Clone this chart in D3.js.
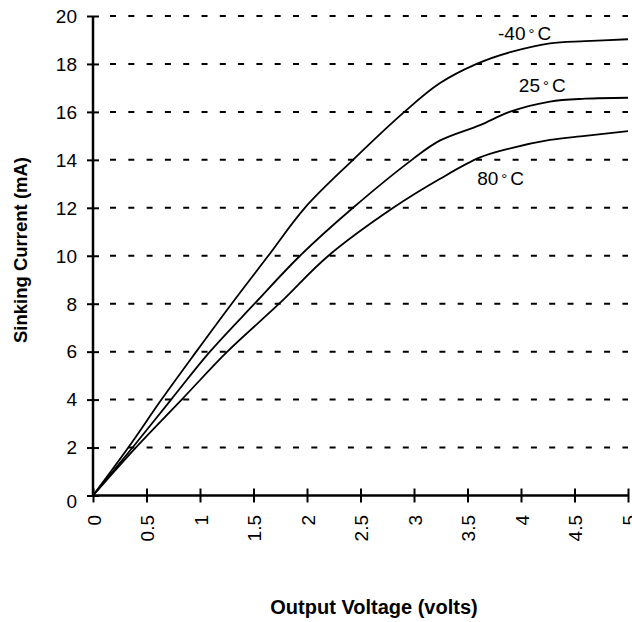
<html>
<head>
<script src='https://d3js.org/d3.v7.min.js'></script>
<style>
body {
  margin: 0;
  background-color: #ffffff;
}
text {
  font-family: 'Liberation Sans', Arial, Helvetica, sans-serif;
}
.grid line {
  stroke: #000;
  stroke-width: 2px;
  stroke-dasharray: 6, 12.3;
}
</style>
</head>
<body>
<script>

// output voltage (volts) -> sinking current (mA)
var voltsMinus40 = [0, 0.33, 0.64, 0.965, 1.296, 1.638, 1.98, 2.43, 2.91, 3.24, 3.586, 3.9, 4.27, 4.6, 5];
var currentMinus40 = [0, 2, 4, 6, 8, 10, 12, 14, 16, 17.19, 18, 18.49, 18.86, 18.95, 19.03];

var volts25 = [0, 0.37, 0.73, 1.093, 1.51, 1.935, 2.43, 2.98, 3.24, 3.617, 3.9, 4.27, 4.6, 5];
var current25 = [0, 2, 4, 6, 8, 10, 12, 14, 14.8, 15.45, 16.01, 16.43, 16.55, 16.59];

var volts80 = [0, 0.4, 0.829, 1.255, 1.74, 2.2, 2.806, 3.24, 3.617, 3.9, 4.27, 4.6, 5];
var current80 = [0, 2, 4, 6, 8, 10, 12, 13.2, 14.1, 14.48, 14.83, 15.0, 15.2];

var seriesNames = ['-40', '25', '80'];
// where each curve label sits, in data units
var labelVolts = [3.785, 3.98, 3.59];
var labelCurrent = [19.0, 16.84, 12.95];

var xTicks = [0, 0.5, 1, 1.5, 2, 2.5, 3, 3.5, 4, 4.5, 5];
var yTicks = [0, 2, 4, 6, 8, 10, 12, 14, 16, 18, 20];

var width = 632, height = 622;

var x = d3.scaleLinear().domain([0, 5]).range([93, 628]);
var y = d3.scaleLinear().domain([0, 20]).range([495.5, 16]);

var svg = d3.select('body').append('svg')
    .attr('width', width)
    .attr('height', height);

// dashed grid lines (no line at 0, that is the axis)
svg.append('g')
    .attr('class', 'grid')
  .selectAll('line')
    .data(yTicks.slice(1))
    .enter().append('line')
    .attr('x1', x(0) + 17)
    .attr('x2', x(5))
    .attr('y1', function(d) { return y(d); })
    .attr('y2', function(d) { return y(d); });

// x axis with ticks crossing the line
var xAxis = svg.append('g')
    .attr('transform', 'translate(0,' + y(0) + ')')
    .call(d3.axisBottom(x).tickValues(xTicks).tickSize(6).tickFormat(''));
xAxis.select('.domain').attr('d', 'M' + x(0) + ',0H' + x(5)).attr('stroke-width', 2.5);
xAxis.selectAll('.tick line').attr('y1', -7).attr('y2', 7).attr('stroke-width', 2);

svg.append('g').selectAll('text')
    .data(xTicks)
    .enter().append('text')
    .attr('transform', function(d) { return 'translate(' + x(d) + ',515) rotate(-90)'; })
    .attr('text-anchor', 'end')
    .attr('dy', '0.42em')
    .style('font-size', '19px')
    .text(function(d) { return d; });

// y axis
var yAxis = svg.append('g')
    .attr('transform', 'translate(' + x(0) + ',0)')
    .call(d3.axisLeft(y).tickValues(yTicks).tickSize(6).tickFormat(''));
yAxis.select('.domain').attr('d', 'M0,' + y(0) + 'V' + y(20)).attr('stroke-width', 2.5);
yAxis.selectAll('.tick line').attr('x1', -6).attr('x2', 6).attr('stroke-width', 2);

svg.append('g').selectAll('text')
    .data(yTicks)
    .enter().append('text')
    .attr('x', 77)
    .attr('y', function(d) { return d === 0 ? y(d) + 6 : y(d); })
    .attr('text-anchor', 'end')
    .attr('dy', '0.36em')
    .style('font-size', '19px')
    .text(function(d) { return d; });

// curves
var series = [
  d3.zip(voltsMinus40, currentMinus40),
  d3.zip(volts25, current25),
  d3.zip(volts80, current80)
];

var line = d3.line()
    .x(function(d) { return x(d[0]); })
    .y(function(d) { return y(d[1]); })
    .curve(d3.curveCatmullRom.alpha(0.5));

svg.selectAll('.curve')
    .data(series)
    .enter().append('path')
    .attr('class', 'curve')
    .attr('d', line)
    .attr('fill', 'none')
    .attr('stroke', '#000')
    .attr('stroke-width', 1.8);

// curve labels
var labels = svg.selectAll('.clabel')
    .data(seriesNames)
    .enter().append('text')
    .attr('class', 'clabel')
    .attr('x', function(d, i) { return x(labelVolts[i]); })
    .attr('y', function(d, i) { return y(labelCurrent[i]); })
    .style('font-size', '19px');
labels.append('tspan').text(function(d) { return d; });
labels.append('tspan').attr('dx', 3).attr('dy', -1).style('font-size', '15px').text('\u00b0');
labels.append('tspan').attr('dx', 3).attr('dy', 1).text('C');

// axis titles
svg.append('text')
    .attr('transform', 'translate(27,250) rotate(-90)')
    .attr('text-anchor', 'middle')
    .style('font-size', '18.5px')
    .style('font-weight', 'bold')
    .text('Sinking Current (mA)');

svg.append('text')
    .attr('x', 374)
    .attr('y', 614)
    .attr('text-anchor', 'middle')
    .style('font-size', '20px')
    .style('font-weight', 'bold')
    .text('Output Voltage (volts)');

</script>
</body>
</html>
